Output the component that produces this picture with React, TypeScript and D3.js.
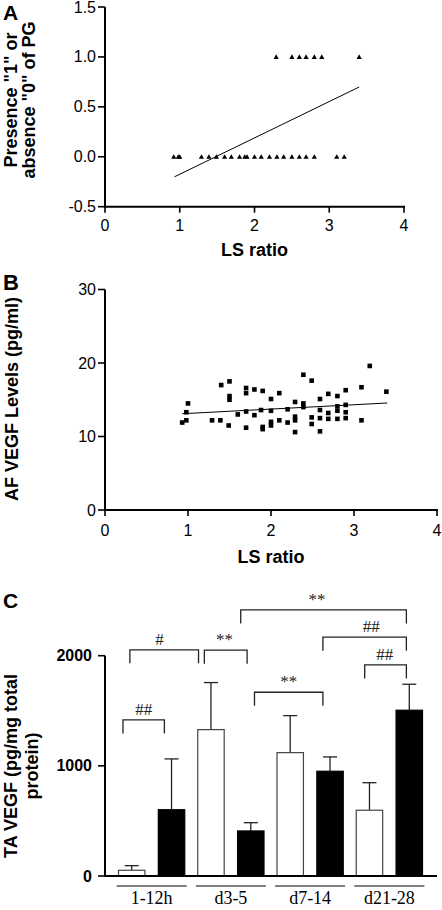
import React from 'react';
import * as d3 from 'd3';

// ---------- Panel A data ----------
const lsAbsent = [0.92, 0.98, 1.0, 1.29, 1.39, 1.49, 1.6, 1.69, 1.8, 1.87, 1.9, 2.0, 2.09, 2.2, 2.3, 2.39, 2.5, 2.6, 2.69, 2.8, 3.1, 3.2];
const lsPresent = [2.29, 2.5, 2.6, 2.69, 2.8, 2.9, 3.4];
const fitA = { slope: 0.364, intercept: -0.539, from: 0.93, to: 3.4 };
const ticksAy = [-0.5, 0, 0.5, 1.0, 1.5];
const ticksX = [0, 1, 2, 3, 4];

// ---------- Panel B data ----------
const lsB = [0.93, 0.98, 0.98, 1.0, 1.29, 1.39, 1.4, 1.49, 1.5, 1.5, 1.5, 1.6, 1.7, 1.7, 1.7, 1.7, 1.8, 1.8, 1.9, 1.88, 1.9, 1.9, 2.0, 2.0, 2.0, 2.0, 2.1, 2.1, 2.2, 2.2, 2.29, 2.29, 2.29, 2.29, 2.39, 2.39, 2.39, 2.49, 2.49, 2.49, 2.59, 2.59, 2.59, 2.59, 2.69, 2.69, 2.69, 2.8, 2.8, 2.8, 2.8, 2.9, 2.9, 2.9, 2.9, 3.09, 3.09, 3.19, 3.39];
const vegfB = [11.9, 12.2, 13.3, 14.5, 12.2, 12.2, 17.0, 11.5, 17.5, 15.5, 15.0, 13.0, 16.6, 15.9, 13.4, 11.2, 16.4, 12.9, 16.2, 13.6, 11.3, 11.0, 15.1, 13.5, 12.0, 11.5, 15.9, 12.2, 13.7, 11.9, 14.7, 12.7, 12.2, 10.6, 18.4, 14.5, 14.0, 17.6, 12.6, 11.7, 15.1, 13.6, 12.5, 10.7, 15.8, 13.2, 12.4, 15.5, 14.1, 13.5, 12.4, 16.3, 14.3, 13.3, 12.5, 16.7, 12.2, 19.6, 16.1];
const fitB = { slope: 0.59, intercept: 12.55, from: 0.93, to: 3.4 };
const ticksBy = [0, 10, 20, 30];

// ---------- Panel C data ----------
const groups = ['1-12h', 'd3-5', 'd7-14', 'd21-28'];
const seriesKeys = ['open', 'filled'];
const openMean = [52, 1329, 1120, 597];
const openSem = [42, 427, 336, 250];
const filledMean = [602, 409, 951, 1505];
const filledSem = [461, 75, 130, 236];
const ticksCy = [0, 1000, 2000];
// brackets: [group, series, fraction across bar] -> [group, series, fraction], level (pg/mg), label, label position along bracket
const bracketFrom = [[0, 'open', 0.17], [0, 'open', 0.43], [1, 'open', 0.25], [1, 'filled', 0.12], [2, 'filled', 0.23], [3, 'open', 0.32], [1, 'filled', 0.64]];
const bracketTo = [[0, 'filled', 0.23], [1, 'open', 0.03], [1, 'filled', 0.36], [3, 'filled', 0.39], [3, 'filled', 0.39], [3, 'filled', 0.39], [2, 'filled', 0.23]];
const bracketLevel = [1417, 2053, 2050, 2416, 2168, 1916, 1668];
const bracketLabel = ['##', '#', '**', '**', '##', '##', '**'];
const bracketLabelAt = [0.5, 0.43, 0.47, 0.46, 0.58, 0.48, 0.5];

const sans = '"Liberation Sans", Arial, Helvetica, sans-serif';
const serif = '"Liberation Serif", "Times New Roman", serif';

function Triangle({ x, y }: { x: number; y: number }) {
  const s = 2.6;
  return <path d={`M${x},${y - s}L${x + s},${y + s * 0.8}L${x - s},${y + s * 0.8}Z`} fill="#000" />;
}

export default function App() {
  // Panel A scales
  const xA = d3.scaleLinear().domain([0, 4]).range([105, 404]);
  const yA = d3.scaleLinear().domain([-0.5, 1.5]).range([206.7, 7]);
  // Panel B scales
  const xB = d3.scaleLinear().domain([0, 4]).range([105, 437]);
  const yB = d3.scaleLinear().domain([0, 30]).range([510, 289.5]);
  // Panel C scales
  const yC = d3.scaleLinear().domain([0, 2000]).range([876, 655.7]);
  const xC = d3.scaleBand<string>().domain(groups).range([112, 429]).padding(0);
  const xInner = d3.scaleBand<string>().domain(seriesKeys).range([0, xC.bandwidth()]).paddingInner(0.336).paddingOuter(0.163);

  const barX = (g: number, s: string, f: number) => (xC(groups[g]) as number) + (xInner(s) as number) + f * xInner.bandwidth();

  const lineA = d3.line<number>().x((d) => xA(d)).y((d) => yA(fitA.intercept + fitA.slope * d));
  const lineB = d3.line<number>().x((d) => xB(d)).y((d) => yB(fitB.intercept + fitB.slope * d));

  const axisW = 2;
  const tickFont = 16;

  const bars = groups.flatMap((g, i) => [
    { g, i, s: 'open', mean: openMean[i], sem: openSem[i] },
    { g, i, s: 'filled', mean: filledMean[i], sem: filledSem[i] },
  ]);

  return (
    <svg width={442} height={910} style={{ position: 'absolute', left: 0, top: 0, background: '#fff' }}>
      <rect x={0} y={0} width={442} height={910} fill="#fff" />
      {/* ================= Panel A ================= */}
      <text x={3} y={20} fontFamily={sans} fontWeight="bold" fontSize={21}>A</text>
      <g fontFamily={sans} fontWeight="bold" fontSize={18} textAnchor="middle">
        <text transform="translate(17,100) rotate(-90)">Presence "1" or</text>
        <text transform="translate(35,100) rotate(-90)">absence "0" of PG</text>
      </g>
      <line x1={105} x2={105} y1={yA(1.5)} y2={yA(-0.5)} stroke="#000" strokeWidth={axisW} />
      <line x1={104} x2={xA(4) + 1} y1={yA(-0.5)} y2={yA(-0.5)} stroke="#000" strokeWidth={axisW} />
      {ticksAy.map((t) => (
        <g key={'ay' + t}>
          <line x1={98} x2={105} y1={yA(t)} y2={yA(t)} stroke="#000" strokeWidth={1.6} />
          <text x={96} y={yA(t) + 5.5} textAnchor="end" fontFamily={sans} fontSize={tickFont}>{t.toFixed(1)}</text>
        </g>
      ))}
      {ticksX.map((t) => (
        <g key={'ax' + t}>
          <line x1={xA(t)} x2={xA(t)} y1={yA(-0.5)} y2={yA(-0.5) + 6} stroke="#000" strokeWidth={1.6} />
          <text x={xA(t)} y={yA(-0.5) + 24} textAnchor="middle" fontFamily={sans} fontSize={tickFont}>{t}</text>
        </g>
      ))}
      <text x={(xA(0) + xA(4)) / 2} y={yA(-0.5) + 49} textAnchor="middle" fontFamily={sans} fontWeight="bold" fontSize={18}>LS ratio</text>
      {lsAbsent.map((v, i) => <Triangle key={'a0' + i} x={xA(v)} y={yA(0)} />)}
      {lsPresent.map((v, i) => <Triangle key={'a1' + i} x={xA(v)} y={yA(1)} />)}
      <path d={lineA([fitA.from, fitA.to]) as string} fill="none" stroke="#000" strokeWidth={1} />

      {/* ================= Panel B ================= */}
      <text x={3} y={290} fontFamily={sans} fontWeight="bold" fontSize={22}>B</text>
      <text transform="translate(18,399) rotate(-90)" textAnchor="middle" fontFamily={sans} fontWeight="bold" fontSize={18}>AF VEGF Levels (pg/ml)</text>
      <line x1={105} x2={105} y1={yB(30)} y2={yB(0)} stroke="#000" strokeWidth={axisW} />
      <line x1={104} x2={xB(4) + 1} y1={yB(0)} y2={yB(0)} stroke="#000" strokeWidth={axisW} />
      {ticksBy.map((t) => (
        <g key={'by' + t}>
          <line x1={98} x2={105} y1={yB(t)} y2={yB(t)} stroke="#000" strokeWidth={1.6} />
          <text x={96} y={yB(t) + 5.5} textAnchor="end" fontFamily={sans} fontSize={tickFont}>{t}</text>
        </g>
      ))}
      {ticksX.map((t) => (
        <g key={'bx' + t}>
          <line x1={xB(t)} x2={xB(t)} y1={yB(0)} y2={yB(0) + 6} stroke="#000" strokeWidth={1.6} />
          <text x={xB(t)} y={yB(0) + 26} textAnchor="middle" fontFamily={sans} fontSize={tickFont}>{t}</text>
        </g>
      ))}
      <text x={(xB(0) + xB(4)) / 2} y={yB(0) + 53} textAnchor="middle" fontFamily={sans} fontWeight="bold" fontSize={18}>LS ratio</text>
      {lsB.map((v, i) => (
        <rect key={'b' + i} x={xB(v) - 2.3} y={yB(vegfB[i]) - 2.3} width={4.6} height={4.6} fill="#000" />
      ))}
      <path d={lineB([fitB.from, fitB.to]) as string} fill="none" stroke="#000" strokeWidth={1} />

      {/* ================= Panel C ================= */}
      <text x={3} y={608} fontFamily={sans} fontWeight="bold" fontSize={21}>C</text>
      <g fontFamily={sans} fontWeight="bold" fontSize={18} textAnchor="middle">
        <text transform="translate(17,766) rotate(-90)">TA VEGF (pg/mg total</text>
        <text transform="translate(38,766) rotate(-90)">protein)</text>
      </g>
      {bars.map((b) => {
        const x = (xC(b.g) as number) + (xInner(b.s) as number);
        const w = xInner.bandwidth();
        const cx = x + w / 2;
        const filled = b.s === 'filled';
        return (
          <g key={b.g + b.s}>
            <line x1={cx} x2={cx} y1={yC(b.mean)} y2={yC(b.mean + b.sem)} stroke="#222" strokeWidth={1.3} />
            <line x1={cx - 7} x2={cx + 7} y1={yC(b.mean + b.sem)} y2={yC(b.mean + b.sem)} stroke="#222" strokeWidth={1.3} />
            <rect x={x} y={yC(b.mean)} width={w} height={yC(0) - yC(b.mean)} fill={filled ? '#000' : '#fff'} stroke={filled ? '#000' : '#444'} strokeWidth={1.2} />
          </g>
        );
      })}
      <line x1={105} x2={105} y1={yC(2000)} y2={yC(0)} stroke="#000" strokeWidth={axisW} />
      <line x1={104} x2={437} y1={yC(0)} y2={yC(0)} stroke="#000" strokeWidth={axisW} />
      {ticksCy.map((t) => (
        <g key={'cy' + t}>
          <line x1={98} x2={105} y1={yC(t)} y2={yC(t)} stroke="#000" strokeWidth={1.6} />
          <text x={92} y={yC(t) + 5.5} textAnchor="end" fontFamily={sans} fontWeight="bold" fontSize={16}>{t}</text>
        </g>
      ))}
      {groups.map((g) => {
        const c = (xC(g) as number) + xC.bandwidth() / 2;
        return (
          <g key={'gl' + g}>
            <line x1={c - 35} x2={c + 35} y1={886} y2={886} stroke="#000" strokeWidth={1.2} />
            <text x={c} y={904} textAnchor="middle" fontFamily={serif} fontSize={18}>{g}</text>
          </g>
        );
      })}
      {bracketLevel.map((lvl, i) => {
        const [fg, fs, ff] = bracketFrom[i] as [number, string, number];
        const [tg, ts, tf] = bracketTo[i] as [number, string, number];
        const x1 = barX(fg, fs, ff);
        const x2 = barX(tg, ts, tf);
        const y = yC(lvl);
        const lx = x1 + (x2 - x1) * bracketLabelAt[i];
        return (
          <g key={'br' + i}>
            <path d={`M${x1},${y + 13.5}V${y}H${x2}V${y + 13.5}`} fill="none" stroke="#222" strokeWidth={1.3} />
            <text x={lx} y={y - 5} textAnchor="middle" fontFamily={serif} fontSize={17} fill="#222">{bracketLabel[i]}</text>
          </g>
        );
      })}
    </svg>
  );
}
